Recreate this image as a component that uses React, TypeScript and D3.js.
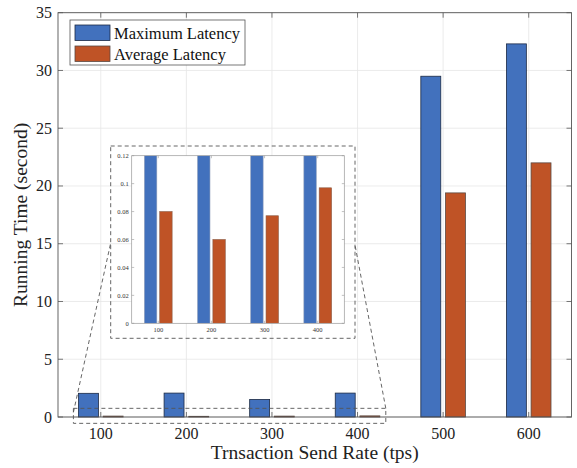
import React from "react";
import * as d3 from "d3";

const categories = [100, 200, 300, 400, 500, 600];
const maxLatency = [2.05, 2.07, 1.52, 2.07, 29.5, 32.3];
const avgLatency = [0.08, 0.06, 0.077, 0.097, 19.4, 22.0];
const seriesNames = ["Maximum Latency", "Average Latency"];
const yTicks = [0, 5, 10, 15, 20, 25, 30, 35];
const insetCategories = [100, 200, 300, 400];
const insetYTicks = [0, 0.02, 0.04, 0.06, 0.08, 0.1, 0.12];
const zoomX = [68, 433];
const zoomY = [-0.55, 0.75];

const BLUE = "#4271bd";
const ORANGE = "#bf5326";
const FONT = "'Liberation Serif', 'DejaVu Serif', serif";

export default function App() {
  const W = 577, H = 468;
  const m = { l: 58, r: 571.5, t: 12.7, b: 417 };
  const x = d3.scaleLinear().domain([50, 650]).range([m.l, m.r]);
  const y = d3.scaleLinear().domain([0, 35]).range([m.b, m.t]);
  const barW = 23.3;
  const off = 14.4;

  // inset
  const ib = { l: 131.7, r: 344.3, t: 155.7, b: 323.3 };
  const ix = d3.scaleLinear().domain([50, 450]).range([ib.l, ib.r]);
  const iy = d3.scaleLinear().domain([0, 0.12]).range([ib.b, ib.t]);
  const inFrame = { l: 110.7, r: 355, t: 146, b: 338.3 };

  const zx0 = x(zoomX[0]), zx1 = x(zoomX[1]);
  const zy0 = y(zoomY[1]), zy1 = y(zoomY[0]);

  const series = [maxLatency, avgLatency];
  const colors = [BLUE, ORANGE];
  const edges = ["#1c2a44", "#5a4a44"];

  return (
    <svg width={W} height={H} style={{ position: "absolute", left: 0, top: 0, background: "#fff" }} fontFamily={FONT}>
      <defs>
        <clipPath id="insetClip">
          <rect x={ib.l} y={ib.t} width={ib.r - ib.l} height={ib.b - ib.t} />
        </clipPath>
      </defs>
      {/* main grid */}
      <g stroke="#e6e6e6" strokeWidth={0.8}>
        {categories.map((c) => (
          <line key={"gx" + c} x1={x(c)} x2={x(c)} y1={m.t} y2={m.b} />
        ))}
        {yTicks.map((t) => (
          <line key={"gy" + t} x1={m.l} x2={m.r} y1={y(t)} y2={y(t)} />
        ))}
      </g>
      {/* main bars */}
      {series.map((s, si) => (
        <g key={"s" + si}>
          {s.map((v, i) => {
            const cx = categories[i] + (si === 0 ? -off : off);
            const x0 = x(cx - barW / 2);
            const x1 = x(cx + barW / 2);
            return (
              <rect key={i} x={x0} y={y(v)} width={x1 - x0} height={y(0) - y(v)} fill={colors[si]} stroke={edges[si]} strokeWidth={0.8} />
            );
          })}
        </g>
      ))}
      {/* main axes box */}
      <rect x={m.l} y={m.t} width={m.r - m.l} height={m.b - m.t} fill="none" stroke="#555" strokeWidth={0.9} />
      <g stroke="#555" strokeWidth={0.8}>
        {categories.map((c) => (
          <g key={"tx" + c}>
            <line x1={x(c)} x2={x(c)} y1={m.b} y2={m.b - 5} />
            <line x1={x(c)} x2={x(c)} y1={m.t} y2={m.t + 5} />
          </g>
        ))}
        {yTicks.map((t) => (
          <g key={"ty" + t}>
            <line x1={m.l} x2={m.l + 5} y1={y(t)} y2={y(t)} />
            <line x1={m.r} x2={m.r - 5} y1={y(t)} y2={y(t)} />
          </g>
        ))}
      </g>
      <g fontSize={16} fill="#222">
        {categories.map((c) => (
          <text key={"lx" + c} x={x(c)} y={438.5} textAnchor="middle">{c}</text>
        ))}
        {yTicks.map((t) => (
          <text key={"ly" + t} x={52} y={y(t)} textAnchor="end" dominantBaseline="central">{t}</text>
        ))}
      </g>
      <text x={(m.l + m.r) / 2} y={459} textAnchor="middle" fontSize={19.5} fill="#222">Trnsaction Send Rate (tps)</text>
      <text transform={`translate(27,${(m.t + m.b) / 2}) rotate(-90)`} textAnchor="middle" fontSize={19.5} fill="#222">Running Time (second)</text>

      {/* zoom rectangle and connectors */}
      <g fill="none" stroke="#555" strokeWidth={0.9} strokeDasharray="4,3">
        <rect x={zx0} y={zy0} width={zx1 - zx0} height={zy1 - zy0} />
        <rect x={inFrame.l} y={inFrame.t} width={inFrame.r - inFrame.l} height={inFrame.b - inFrame.t} />
        <line x1={zx0} y1={zy0 + 4} x2={inFrame.l} y2={243} />
        <line x1={zx1} y1={zy0} x2={inFrame.r} y2={245} />
      </g>

      {/* inset */}
      <rect x={ib.l} y={ib.t} width={ib.r - ib.l} height={ib.b - ib.t} fill="#fff" />
      <g clipPath="url(#insetClip)">
        {series.map((s, si) => (
          <g key={"is" + si}>
            {insetCategories.map((c, i) => {
              const v = s[i];
              const cx = c + (si === 0 ? -off : off);
              const x0 = ix(cx - barW / 2);
              const x1 = ix(cx + barW / 2);
              return (
                <rect key={i} x={x0} y={iy(v)} width={x1 - x0} height={iy(0) - iy(v)} fill={colors[si]} stroke={si === 0 ? "#8a9ab8" : "#8a5a44"} strokeWidth={0.6} />
              );
            })}
          </g>
        ))}
      </g>
      <rect x={ib.l} y={ib.t} width={ib.r - ib.l} height={ib.b - ib.t} fill="none" stroke="#999" strokeWidth={0.7} />
      <g stroke="#999" strokeWidth={0.6}>
        {insetCategories.map((c) => (
          <g key={"itx" + c}>
            <line x1={ix(c)} x2={ix(c)} y1={ib.b} y2={ib.b - 2.5} />
            <line x1={ix(c)} x2={ix(c)} y1={ib.t} y2={ib.t + 2.5} />
          </g>
        ))}
        {insetYTicks.map((t) => (
          <g key={"ity" + t}>
            <line x1={ib.l} x2={ib.l + 2.5} y1={iy(t)} y2={iy(t)} />
            <line x1={ib.r} x2={ib.r - 2.5} y1={iy(t)} y2={iy(t)} />
          </g>
        ))}
      </g>
      <g fontSize={6.5} fill="#333">
        {insetCategories.map((c) => (
          <text key={"ilx" + c} x={ix(c)} y={332} textAnchor="middle">{c}</text>
        ))}
        {insetYTicks.map((t) => (
          <text key={"ily" + t} x={ib.l - 3} y={iy(t)} textAnchor="end" dominantBaseline="central">{t}</text>
        ))}
      </g>

      {/* legend */}
      <rect x={70} y={20} width={175} height={45} fill="#fff" stroke="#555" strokeWidth={0.8} />
      {seriesNames.map((n, i) => (
        <g key={n}>
          <rect x={75} y={25 + i * 21} width={35} height={15.5} fill={colors[i]} stroke={edges[i]} strokeWidth={0.8} />
          <text x={114} y={38.5 + i * 21} fontSize={16.5} fill="#111">{n}</text>
        </g>
      ))}
    </svg>
  );
}
